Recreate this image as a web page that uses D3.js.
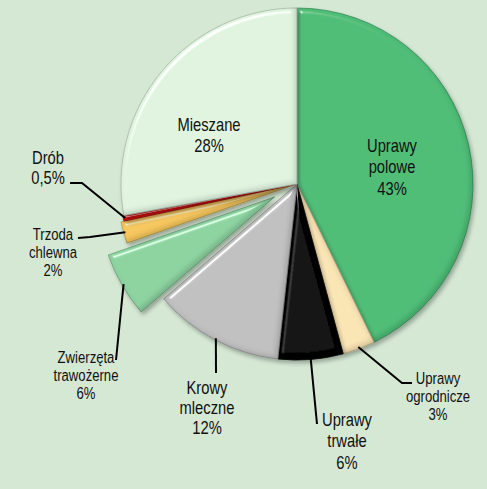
<!DOCTYPE html>
<html><head><meta charset="utf-8">
<script src="https://cdn.jsdelivr.net/npm/d3@7/dist/d3.min.js"></script>
<style>
html,body{margin:0;padding:0;background:#d5e8d4;}
svg{display:block;}
text{font-family:"Liberation Sans",Arial,sans-serif;fill:#111;}
</style></head>
<body><div id="chart"></div>
<script>
// ---- data ----
const categories = ["Uprawy polowe","Uprawy ogrodnicze","Uprawy trwałe","Krowy mleczne","Zwierzęta trawożerne","Trzoda chlewna","Drób","Mieszane"];
const values = [43, 3, 6, 12, 6, 2, 0.5, 28];
const valueLabels = ["43%","3%","6%","12%","6%","2%","0,5%","28%"];
const nameLines = [["Uprawy","polowe"],["Uprawy","ogrodnicze"],["Uprawy","trwałe"],["Krowy","mleczne"],["Zwierzęta","trawożerne"],["Trzoda","chlewna"],["Drób"],["Mieszane"]];

// ---- style / layout ----
const W = 487, H = 489;
const cx = 297, cy = 184, R = 176;
const narrow = 0.82;
const colors = {
  "Uprawy polowe":"#4fbd77","Uprawy ogrodnicze":"#f9e4b4","Uprawy trwałe":"#030303",
  "Krowy mleczne":"#c0c0c0","Zwierzęta trawożerne":"#8dd3a0","Trzoda chlewna":"#f6c75e",
  "Drób":"#e01818","Mieszane":"#dff3df"
};
const explode = {"Zwierzęta trawożerne":26,"Trzoda chlewna":4,"Drób":1};
// label anchor offset from pie center (px), font size, line height, leader offsets from anchor
const labelLayout = {
  "Uprawy polowe":        {a:[95,-32],  fs:18, lh:21.5},
  "Mieszane":             {a:[-88,-53], fs:18, lh:21.5},
  "Drób":                 {a:[-249,-20.5], fs:18, lh:21, leader:[[34,19.5],[22,19.5]]},
  "Trzoda chlewna":       {a:[-244,55.5], fs:16, lh:18.5, leader:[[37,-2.5],[25,-1.5]]},
  "Zwierzęta trawożerne": {a:[-211,179], fs:16, lh:18, leader:[[30,-3]]},
  "Krowy mleczne":        {a:[-90,209.5], fs:18, lh:20.5, leader:[[9,-20.5]]},
  "Uprawy trwałe":        {a:[50,242], fs:18, lh:21.5, leader:[[-30,-2]]},
  "Uprawy ogrodnicze":    {a:[141,199.5], fs:16, lh:18.5, leader:[[-36,-0.5],[-26,-0.5]]}
};

const svg = d3.select("#chart").append("svg").attr("width", W).attr("height", H);
svg.append("rect").attr("width", W).attr("height", H).attr("fill", "#d5e8d4");

const defs = svg.append("defs");
const f = defs.append("filter").attr("id","bevel").attr("x","-10%").attr("y","-10%").attr("width","125%").attr("height","125%");
// highlight
f.append("feGaussianBlur").attr("in","SourceAlpha").attr("stdDeviation",2.5).attr("result","blur");
const spec = f.append("feSpecularLighting").attr("in","blur").attr("surfaceScale",5)
  .attr("specularConstant",0.9).attr("specularExponent",40).attr("lighting-color","#ffffff").attr("result","spec");
spec.append("feDistantLight").attr("azimuth",235).attr("elevation",35);
f.append("feComposite").attr("in","spec").attr("in2","SourceAlpha").attr("operator","in").attr("result","specIn");
f.append("feComposite").attr("in","SourceGraphic").attr("in2","specIn").attr("operator","arithmetic")
  .attr("k1",0).attr("k2",1).attr("k3",0.7).attr("k4",0).attr("result","lit");
// inner shade on lower-right edges
f.append("feOffset").attr("in","SourceAlpha").attr("dx",-3).attr("dy",-3).attr("result","ioff");
f.append("feGaussianBlur").attr("in","ioff").attr("stdDeviation",2).attr("result","iblur");
f.append("feComposite").attr("in","SourceAlpha").attr("in2","iblur").attr("operator","out").attr("result","iedge");
f.append("feFlood").attr("flood-color","#000").attr("flood-opacity",0.28).attr("result","iflood");
f.append("feComposite").attr("in","iflood").attr("in2","iedge").attr("operator","in").attr("result","ishade");
// drop shadow
f.append("feGaussianBlur").attr("in","SourceAlpha").attr("stdDeviation",2).attr("result","sblur");
f.append("feOffset").attr("in","sblur").attr("dx",2).attr("dy",3).attr("result","soff");
f.append("feComponentTransfer").attr("in","soff").attr("result","shadow")
  .append("feFuncA").attr("type","linear").attr("slope",0.3);
const m = f.append("feMerge");
m.append("feMergeNode").attr("in","shadow");
m.append("feMergeNode").attr("in","lit");
m.append("feMergeNode").attr("in","ishade");

const data = categories.map((c,i)=>({cat:c, value:values[i], vlab:valueLabels[i], lines:nameLines[i]}));
const pie = d3.pie().value(d=>d.value).sort(null).startAngle(0).endAngle(2*Math.PI);
const arcs = pie(data);
const arc = d3.arc().innerRadius(0).outerRadius(R);

function offsetOf(a){
  const e = explode[a.data.cat] || 0;
  const mid = (a.startAngle + a.endAngle)/2;
  return [e*Math.sin(mid), -e*Math.cos(mid)];
}

const g = svg.append("g").attr("transform",`translate(${cx},${cy})`);
g.selectAll("path.slice").data(arcs).join("path")
  .attr("class","slice")
  .attr("transform", a=>{const o=offsetOf(a); return `translate(${o[0]},${o[1]})`;})
  .attr("d", arc)
  .attr("fill", a=>colors[a.data.cat])
  .attr("stroke", a=>d3.color(colors[a.data.cat]).darker(0.9))
  .attr("stroke-width",0.7)
  .attr("filter","url(#bevel)");

// leaders
const lg = svg.append("g").attr("transform",`translate(${cx},${cy})`);
arcs.forEach(a=>{
  const L = labelLayout[a.data.cat];
  if(!L.leader) return;
  const o = offsetOf(a);
  const mid = (a.startAngle + a.endAngle)/2;
  const p0 = [o[0] + R*0.99*Math.sin(mid), o[1] - R*0.99*Math.cos(mid)];
  const pts = [p0].concat(L.leader.map(p=>[L.a[0]+p[0], L.a[1]+p[1]]));
  lg.append("path").attr("d", d3.line()(pts)).attr("fill","none")
    .attr("stroke","#000").attr("stroke-width",2);
});

// labels (Arial-metric font, horizontally condensed like Arial Narrow)
const tg = svg.append("g").attr("transform",`translate(${cx},${cy})`);
arcs.forEach(a=>{
  const L = labelLayout[a.data.cat];
  const lines = a.data.lines.concat([a.data.vlab]);
  const t = tg.append("text").attr("text-anchor","middle")
    .attr("transform", `translate(${L.a[0]},${L.a[1]}) scale(${narrow},1)`)
    .style("font-size", L.fs+"px");
  lines.forEach((s,i)=>{
    t.append("tspan").attr("x", 0).attr("y", i*L.lh).text(s);
  });
});
</script></body></html>
